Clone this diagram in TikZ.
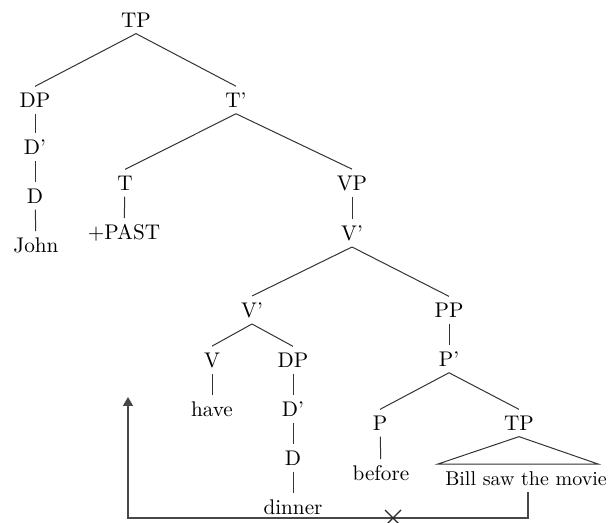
\documentclass[tikz,border=0pt]{standalone}
\usetikzlibrary{arrows.meta}
\begin{document}
\begin{tikzpicture}[x=0.5pt,y=-0.5pt,
  lbl/.style={inner sep=3pt, font=\fontsize{10.6}{12}\selectfont},
  br/.style={draw=black!80, line width=0.5pt},
  mv/.style={draw=black!72, line width=0.8pt}]
\useasboundingbox (0,0) rectangle (610,523);
% nodes
\node[lbl] (TPa) at (136,20) {TP};
\node[lbl] (DPa) at (35,100) {DP};
\node[lbl] (Tbar) at (236,100) {T'};
\node[lbl] (Dbara) at (35,147) {D'};
\node[lbl] (Da) at (35,196) {D};
\node[lbl] (John) at (36,245) {John};
\node[lbl] (T) at (125,183) {T};
\node[lbl] (VP) at (352,183) {VP};
\node[lbl] (PAST) at (124,233) {+PAST};
\node[lbl] (Vbara) at (352,233) {V'};
\node[lbl] (Vbarb) at (252,310) {V'};
\node[lbl] (PP) at (449,310) {PP};
\node[lbl] (V) at (212,360) {V};
\node[lbl] (DPb) at (293,360) {DP};
\node[lbl] (have) at (212,409) {have};
\node[lbl] (Dbarb) at (293,409) {D'};
\node[lbl] (Db) at (293,458) {D};
\node[lbl] (dinner) at (293,507) {dinner};
\node[lbl] (Pbar) at (449,359) {P'};
\node[lbl] (P) at (380,423) {P};
\node[lbl] (TPb) at (519,423) {TP};
\node[lbl] (before) at (381,473) {before};
\node[inner sep=3pt, font=\fontsize{10}{12}\selectfont] (BSM) at (526,479) {Bill saw the movie};
\coordinate (triL) at (438,464);
\coordinate (triR) at (598,464);
% branches
\draw[br] (TPa.south) -- (DPa.north);
\draw[br] (TPa.south) -- (Tbar.north);
\draw[br] (DPa) -- (Dbara);
\draw[br] (Dbara) -- (Da);
\draw[br] (Da) -- (John);
\draw[br] (Tbar.south) -- (T.north);
\draw[br] (Tbar.south) -- (VP.north);
\draw[br] (T) -- (PAST);
\draw[br] (VP) -- (Vbara);
\draw[br] (Vbara.south) -- (Vbarb.north);
\draw[br] (Vbara.south) -- (PP.north);
\draw[br] (Vbarb.south) -- (V.north);
\draw[br] (Vbarb.south) -- (DPb.north);
\draw[br] (V) -- (have);
\draw[br] (DPb) -- (Dbarb);
\draw[br] (Dbarb) -- (Db);
\draw[br] (Db) -- (dinner);
\draw[br] (PP) -- (Pbar);
\draw[br] (Pbar.south) -- (P.north);
\draw[br] (Pbar.south) -- (TPb.north);
\draw[br] (P) -- (before);
\draw[br] (TPb.south) -- (triL) -- (triR) -- cycle;
% movement arrow
\coordinate (arrtop) at (128,397);
\coordinate (cl) at (128,518);
\coordinate (cr) at (528,518);
\draw[mv, -{Triangle[width=5pt,length=4.5pt]}] (cr |- BSM.south) -- (cr) -- (cl) -- (arrtop);
% cross
\coordinate (xc) at (393,518);
\draw[black!85, line width=0.6pt] ([shift={(-8,-8)}]xc) -- ([shift={(8,8)}]xc)
  ([shift={(-8,8)}]xc) -- ([shift={(8,-8)}]xc);
\end{tikzpicture}
\end{document}
